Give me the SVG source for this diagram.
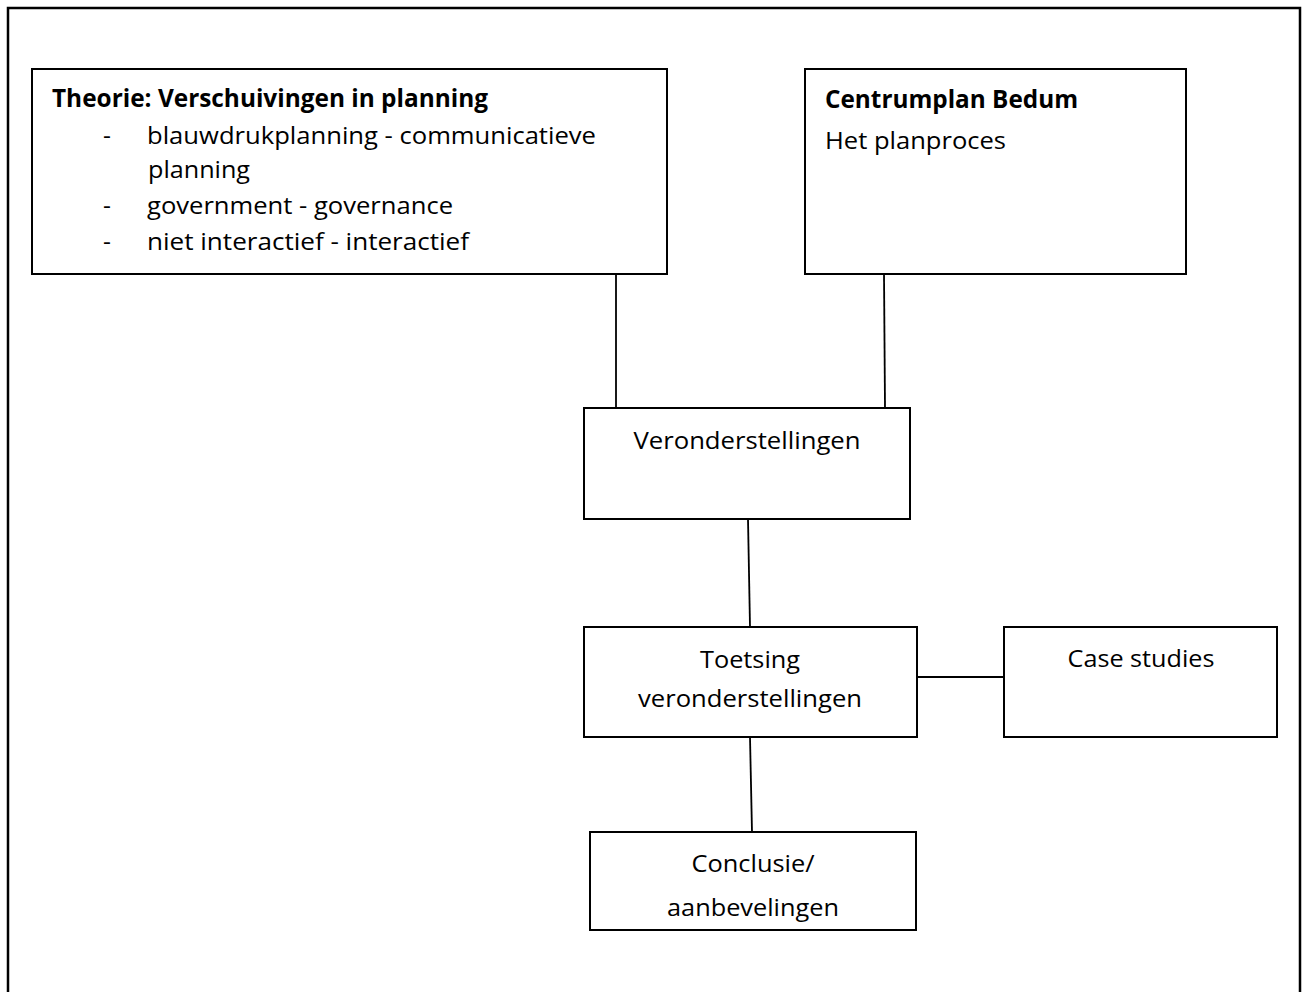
<svg xmlns="http://www.w3.org/2000/svg" width="1307" height="992" viewBox="0 0 1307 992">
<style>
.box{fill:#fff;stroke:#000;stroke-width:2}
.ln{stroke:#000;stroke-width:1.8;fill:none}
text{font-family:"Open Sans","Noto Sans","Liberation Sans",sans-serif;font-size:24.5px;fill:#000}
.b{font-weight:bold}
.c{text-anchor:middle}
</style>
<rect width="1307" height="992" fill="#fff"/>
<path d="M8,1000 V8 H1300 V1000" fill="none" stroke="#000" stroke-width="2.5"/>
<g id="connectors">
<line class="ln" x1="616" y1="274" x2="616" y2="408"/>
<line class="ln" x1="884" y1="274" x2="885" y2="408"/>
<line class="ln" x1="748" y1="519" x2="750" y2="627"/>
<line class="ln" x1="750" y1="737" x2="752" y2="832"/>
<line class="ln" x1="917" y1="677" x2="1004" y2="677"/>
</g>
<g id="theorie">
<rect class="box" x="32" y="69" width="635" height="205"/>
<text class="b" x="52" y="107" textLength="436" lengthAdjust="spacingAndGlyphs">Theorie: Verschuivingen in planning</text>
<text x="103" y="144">-</text>
<text x="147" y="144" textLength="449" lengthAdjust="spacingAndGlyphs">blauwdrukplanning - communicatieve</text>
<text x="148" y="178" textLength="102" lengthAdjust="spacingAndGlyphs">planning</text>
<text x="103" y="214">-</text>
<text x="147" y="214" textLength="306" lengthAdjust="spacingAndGlyphs">government - governance</text>
<text x="103" y="250">-</text>
<text x="147" y="250" textLength="322" lengthAdjust="spacingAndGlyphs">niet interactief - interactief</text>
</g>
<g id="centrumplan">
<rect class="box" x="805" y="69" width="381" height="205"/>
<text class="b" x="825" y="108" textLength="253" lengthAdjust="spacingAndGlyphs">Centrumplan Bedum</text>
<text x="825" y="149" textLength="181" lengthAdjust="spacingAndGlyphs">Het planproces</text>
</g>
<g id="veronderstellingen">
<rect class="box" x="584" y="408" width="326" height="111"/>
<text class="c" x="747" y="449" textLength="227" lengthAdjust="spacingAndGlyphs">Veronderstellingen</text>
</g>
<g id="toetsing">
<rect class="box" x="584" y="627" width="333" height="110"/>
<text class="c" x="750" y="668" textLength="100" lengthAdjust="spacingAndGlyphs">Toetsing</text>
<text class="c" x="750" y="707" textLength="224" lengthAdjust="spacingAndGlyphs">veronderstellingen</text>
</g>
<g id="casestudies">
<rect class="box" x="1004" y="627" width="273" height="110"/>
<text class="c" x="1141" y="667" textLength="147" lengthAdjust="spacingAndGlyphs">Case studies</text>
</g>
<g id="conclusie">
<rect class="box" x="590" y="832" width="326" height="98"/>
<text class="c" x="753" y="872" textLength="123" lengthAdjust="spacingAndGlyphs">Conclusie/</text>
<text class="c" x="753" y="916" textLength="172" lengthAdjust="spacingAndGlyphs">aanbevelingen</text>
</g>
</svg>
